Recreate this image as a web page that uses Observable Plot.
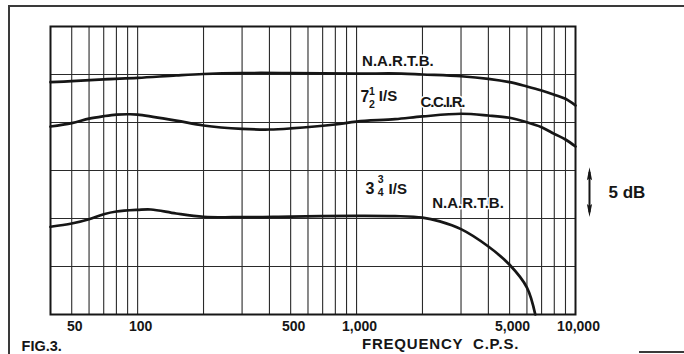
<!DOCTYPE html>
<html>
<head>
<meta charset="utf-8">
<script src="https://cdn.jsdelivr.net/npm/d3@7"></script>
<script src="https://cdn.jsdelivr.net/npm/@observablehq/plot@0.6"></script>
<style>
  html, body { margin: 0; padding: 0; background: #fff; }
  #fig { position: relative; width: 684px; height: 354px; overflow: hidden; background: #fff; }
  #fig svg { position: absolute; left: 0; top: 0; }
  .edge { position: absolute; background: #3a3a3a; z-index: 2; }
</style>
</head>
<body>
<div id="fig"></div>
<script>
// Frequency grid (log cycles) and level grid, 5 dB per division
const freqGrid = [50, 60, 70, 80, 90, 100, 200, 300, 400, 500, 600, 700, 800, 900,
                  1000, 2000, 3000, 4000, 5000, 6000, 7000, 8000, 9000];
const dbGrid = [5, 10, 15, 20, 25];
const tickFreqs = [50, 100, 500, 1000, 5000, 10000];
const tickLabels = ["50", "100", "500", "1,000", "5,000", "10,000"];

// Replay responses: [frequency in c/s, relative level in dB]
const nartb75 = [[40, 24.2], [50, 24.3], [70, 24.5], [100, 24.65], [150, 24.9], [200, 25.05],
                 [300, 25.15], [500, 25.15], [1000, 25.1], [1600, 25.1], [2000, 25.0],
                 [3000, 24.82], [4000, 24.55], [5000, 24.2], [6000, 23.75], [7000, 23.33],
                 [8000, 22.9], [9000, 22.47], [10000, 21.77]];
const ccir75 = [[40, 19.58], [50, 19.93], [60, 20.4], [70, 20.66], [80, 20.83], [90, 20.86],
                [100, 20.83], [150, 20.2], [200, 19.69], [300, 19.34], [400, 19.27], [500, 19.38],
                [800, 19.79], [1000, 20.1], [1500, 20.35], [2000, 20.63], [3000, 20.91],
                [4000, 20.73], [5000, 20.49], [6000, 20.03], [7000, 19.51], [8000, 18.82],
                [9000, 18.23], [10000, 17.5]];
const nartb375 = [[40, 9.14], [50, 9.48], [60, 9.93], [70, 10.45], [80, 10.73], [100, 10.9],
                  [115, 10.94], [150, 10.52], [200, 10.18], [300, 10.14], [500, 10.2],
                  [1000, 10.28], [1500, 10.25], [2000, 10.1], [2400, 9.7], [3000, 8.89],
                  [4000, 7.08], [5000, 5.18], [6000, 2.81], [6550, 0]];

const standardLabels = ["N.A.R.T.B.", "C.C.I.R.", "N.A.R.T.B."];
const speedWholes = ["7", "3"];
const speedFractions = ["1\n2", "3\n4"];
const speedUnit = "I/S";
const scaleLabel = "5 dB";
const xTitle = "FREQUENCY  C.P.S.";
const figLabel = "FIG.3.";

const series = [
  ...nartb75.map(([f, db]) => ({curve: "nartb75", f, db})),
  ...ccir75.map(([f, db]) => ({curve: "ccir75", f, db})),
  ...nartb375.map(([f, db]) => ({curve: "nartb375", f, db}))
];

// filled spindle arrowheads for the 5 dB scale bar
const headUp = {draw(ctx) { ctx.moveTo(0, 0); ctx.lineTo(2.6, 13); ctx.lineTo(0, 11); ctx.lineTo(-2.6, 13); ctx.closePath(); }};
const headDown = {draw(ctx) { ctx.moveTo(0, 0); ctx.lineTo(2.6, -13); ctx.lineTo(0, -11); ctx.lineTo(-2.6, -13); ctx.closePath(); }};

const ink = "#161616";
const font = "'Liberation Sans', Arial, sans-serif";
const label = (text, x, y, extra = {}) =>
  Plot.text([text], {x, y, text: d => d, fill: ink, fontFamily: font, fontWeight: "bold",
                     fontSize: 15, textAnchor: "start", lineAnchor: "middle",
                     stroke: "white", strokeWidth: 3, ...extra});

const chart = Plot.plot({
  width: 684,
  height: 354,
  marginLeft: 50,
  marginRight: 109,
  marginTop: 26,
  marginBottom: 40,
  style: {background: "transparent", fontFamily: font},
  x: {type: "log", domain: [40, 10000], axis: null},
  y: {domain: [0, 30], axis: null},
  marks: [
    Plot.ruleX(freqGrid, {stroke: "#2a2a2a", strokeWidth: 1.1}),
    Plot.ruleY(dbGrid, {stroke: "#2a2a2a", strokeWidth: 1.1}),
    Plot.frame({stroke: ink, strokeWidth: 2}),
    Plot.line(series, {x: "f", y: "db", z: "curve", curve: "catmull-rom",
                       stroke: ink, strokeWidth: 2.7}),

    // curve annotations
    label(standardLabels[0], 1060, 26.4),
    label(speedWholes[0], 1042, 22.7, {fontSize: 16}),
    label(speedFractions[0], 1175, 22.65, {fontSize: 10.5, textAnchor: "middle", lineHeight: 1.25}),
    label(speedUnit, 1264, 22.7),
    label(standardLabels[1], 1959, 22.1),
    label(speedWholes[1], 1098, 13.1, {fontSize: 16}),
    label(speedFractions[1], 1290, 13.5, {fontSize: 10.5, textAnchor: "middle", lineHeight: 1.25}),
    label(speedUnit, 1400, 13.1),
    label(standardLabels[2], 2215, 11.6),

    // 5 dB scale bar beside the grid
    Plot.ruleX([11585], {y1: 10.6, y2: 14.8, stroke: ink, strokeWidth: 2}),
    Plot.dot([0], {x: 11585, y: 15.35, symbol: headUp, fill: ink, stroke: "none"}),
    Plot.dot([0], {x: 11585, y: 10.15, symbol: headDown, fill: ink, stroke: "none"}),
    Plot.text([scaleLabel], {x: 14150, y: 12.74, text: d => d, fill: ink, fontFamily: font,
                             fontWeight: "bold", fontSize: 17, textAnchor: "start"}),

    // frequency scale
    Plot.text(tickFreqs, {x: d => d, y: 0, text: (d, i) => tickLabels[i], dy: 12, dx: 3,
                          fill: ink, fontFamily: font, fontWeight: "bold", fontSize: 14}),
    Plot.text([xTitle], {x: 2420, y: 0, text: d => d, dy: 29.5, fill: ink, fontFamily: font,
                         fontWeight: "bold", fontSize: 15}),
    Plot.text([figLabel], {x: 29.5, y: 0, text: d => d, dy: 31.5, textAnchor: "start",
                           fill: ink, fontFamily: font, fontWeight: "bold", fontSize: 14.5})
  ]
});

const fig = document.getElementById("fig");
fig.appendChild(chart);
d3.select(chart).selectAll("text")
  .filter(function () { return this.textContent === "C.C.I.R."; })
  .style("letter-spacing", "-1.2px");
d3.select(chart).selectAll("text")
  .filter(function () { return this.textContent.startsWith("FREQUENCY"); })
  .style("letter-spacing", "0.8px").style("white-space", "pre");

// page border
[["8px", "5px", "676px", "2px"], ["8px", "5px", "2px", "349px"], ["639px", "351px", "45px", "2px"]]
  .forEach(([l, t, w, h]) => {
    const e = document.createElement("div");
    e.className = "edge";
    Object.assign(e.style, {left: l, top: t, width: w, height: h});
    fig.appendChild(e);
  });
</script>
</body>
</html>
